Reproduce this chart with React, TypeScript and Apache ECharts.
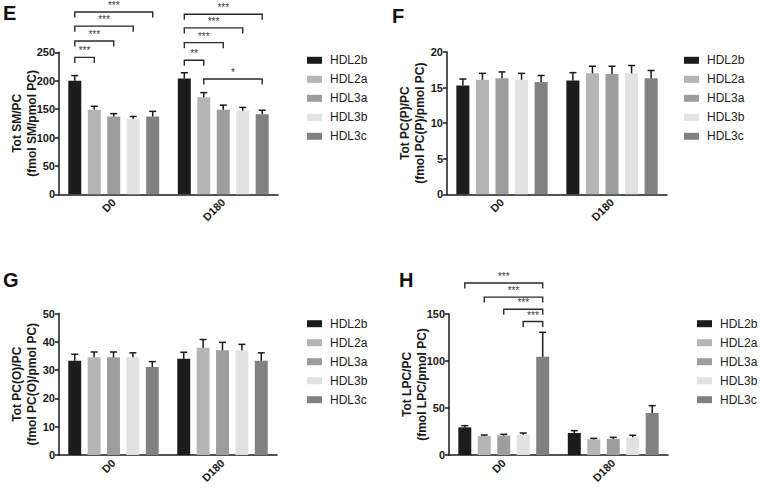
import React, { useEffect, useRef } from "react";
import * as echarts from "echarts";

const categories = ["D0", "D180"];
const seriesNames = ["HDL2b", "HDL2a", "HDL3a", "HDL3b", "HDL3c"];
const seriesColors = ["#1c1c1c", "#b5b5b5", "#9d9d9d", "#e2e2e2", "#818181"];

// Panel E: Tot SM/PC — mean per series [D0, D180]
const smMean = [[200, 204], [149, 171], [137, 149], [133, 147], [137, 141]];
const smSem = [[9, 10], [6, 8], [5, 8], [4, 6], [9, 7]];
// Panel F: Tot PC(P)/PC
const pcpMean = [[15.3, 16.0], [16.1, 17.0], [16.3, 16.9], [16.1, 17.0], [15.8, 16.3]];
const pcpSem = [[0.9, 1.1], [0.9, 1.0], [0.9, 1.1], [0.9, 1.1], [0.9, 1.1]];
// Panel G: Tot PC(O)/PC
const pcoMean = [[33.3, 34.0], [34.5, 37.9], [34.5, 37.0], [34.5, 36.9], [31.1, 33.3]];
const pcoSem = [[2.3, 2.3], [1.9, 2.9], [1.9, 2.8], [1.6, 2.2], [1.9, 2.8]];
// Panel H: Tot LPC/PC
const lpcMean = [[29.4, 23.4], [20.2, 16.7], [20.6, 17.0], [21.6, 18.8], [104.5, 44.7]];
const lpcSem = [[1.8, 2.5], [1.1, 1.0], [1.4, 1.8], [1.8, 2.2], [26.0, 7.8]];

// Significance brackets: [category, from series, to series, bracket height, label]
const smBrackets: [number, number, number, number, string][] = [
  [0, 0, 1, 241, "***"],
  [0, 0, 2, 270, "***"],
  [0, 0, 3, 296, "***"],
  [0, 0, 4, 321, "***"],
  [1, 0, 1, 236, "**"],
  [1, 0, 2, 267, "***"],
  [1, 0, 3, 293, "***"],
  [1, 0, 4, 317, "***"],
  [1, 1, 4, 203, "*"],
];
const lpcBrackets: [number, number, number, number, string][] = [
  [0, 0, 4, 183, "***"],
  [0, 1, 4, 168, "***"],
  [0, 2, 4, 155, "***"],
  [0, 3, 4, 142, "***"],
];

const yMax = [250, 20, 50, 150];
const yInterval = [50, 5, 10, 50];
const yNames = [
  "Tot SM/PC\n(fmol SM/pmol PC)",
  "Tot PC(P)/PC\n(fmol PC(P)/pmol PC)",
  "Tot PC(O)/PC\n(fmol PC(O)/pmol PC)",
  "Tot LPC/PC\n(fmol LPC/pmol PC)",
];
const panelLetters = ["E", "F", "G", "H"];

const FONT = "'Liberation Sans', Arial, Helvetica, sans-serif";
const CAT_GAP = 0.17;
const BAR_GAP = 0.5;

function barX(api: any, cat: number, s: number, val: number) {
  const c = api.coord([cat, val]);
  const band = api.size([1, 0])[0];
  const n = seriesNames.length;
  const w = (band * (1 - CAT_GAP)) / (n + (n - 1) * BAR_GAP);
  const pitch = w * (1 + BAR_GAP);
  return [c[0] - ((n - 1) / 2) * pitch + s * pitch, c[1]];
}

export default function App() {
  const ref = useRef<HTMLDivElement>(null);
  useEffect(() => {
    if (!ref.current) return;
    const chart = echarts.init(ref.current, undefined, { renderer: "svg" });
    const means = [smMean, pcpMean, pcoMean, lpcMean];
    const sems = [smSem, pcpSem, pcoSem, lpcSem];
    const brackets = [smBrackets, [], [], lpcBrackets];

    const grids = [
      { left: 59, top: 52.3, width: 219, height: 142 },
      { left: 447, top: 52, width: 220, height: 142.3 },
      { left: 59, top: 313.5, width: 218, height: 141.5 },
      { left: 449, top: 314, width: 219, height: 141 },
    ];
    const legendPos = [
      { left: 307, top: 53.3 },
      { left: 684, top: 53.3 },
      { left: 307, top: 316.7 },
      { left: 697, top: 316.7 },
    ];
    const letterPos = [
      [3, 3],
      [392, 6],
      [3, 270],
      [399, 270],
    ];

    const xAxis = grids.map((_, p) => ({
      type: "category",
      gridIndex: p,
      data: categories,
      axisLine: { lineStyle: { color: "#1a1a1a", width: 1.5 } },
      axisTick: { alignWithLabel: true, length: 4, lineStyle: { color: "#1a1a1a", width: 1.5 } },
      axisLabel: {
        rotate: 45,
        margin: 6,
        color: "#1a1a1a",
        fontWeight: "bold",
        fontSize: 11,
        fontFamily: FONT,
      },
    }));
    const yAxis = grids.map((_, p) => ({
      type: "value",
      gridIndex: p,
      min: 0,
      max: yMax[p],
      interval: yInterval[p],
      name: yNames[p],
      nameLocation: "middle",
      nameGap: 20,
      nameMoveOverlap: false,
      nameTextStyle: {
        color: "#1a1a1a",
        fontWeight: "bold",
        fontSize: 12,
        lineHeight: 15,
        fontFamily: FONT,
      },
      splitLine: { show: false },
      axisLine: { show: true, lineStyle: { color: "#1a1a1a", width: 1.5 } },
      axisTick: { show: true, length: 4, lineStyle: { color: "#1a1a1a", width: 1.5 } },
      axisLabel: {
        margin: 4,
        color: "#1a1a1a",
        fontWeight: "bold",
        fontSize: 11,
        fontFamily: FONT,
      },
    }));

    const series: any[] = [];
    for (let p = 0; p < 4; p++) {
      seriesNames.forEach((name, s) => {
        series.push({
          type: "bar",
          name,
          xAxisIndex: p,
          yAxisIndex: p,
          data: means[p][s],
          barGap: BAR_GAP * 100 + "%",
          barCategoryGap: CAT_GAP * 100 + "%",
          itemStyle: { color: seriesColors[s] },
          emphasis: { disabled: true },
        });
      });
      const errData: number[][] = [];
      seriesNames.forEach((_, s) => {
        categories.forEach((_, c) => {
          errData.push([c, s, means[p][s][c], sems[p][s][c]]);
        });
      });
      series.push({
        type: "custom",
        xAxisIndex: p,
        yAxisIndex: p,
        z: 5,
        clip: false,
        itemStyle: { color: "#1a1a1a" },
        encode: { x: 0, y: 2 },
        data: errData,
        renderItem: (params: any, api: any) => {
          const cat = api.value(0);
          const s = api.value(1);
          const m = api.value(2);
          const e = api.value(3);
          const b = barX(api, cat, s, m);
          const t = barX(api, cat, s, m + e);
          const cap = 3.5;
          const st = { stroke: "#1a1a1a", lineWidth: 1.5 };
          return {
            type: "group",
            children: [
              { type: "line", shape: { x1: b[0], y1: b[1], x2: t[0], y2: t[1] }, style: st },
              { type: "line", shape: { x1: t[0] - cap, y1: t[1], x2: t[0] + cap, y2: t[1] }, style: st },
            ],
          };
        },
      });
      const br = brackets[p];
      if (br.length) {
        series.push({
          type: "custom",
          xAxisIndex: p,
          yAxisIndex: p,
          z: 6,
          clip: false,
          itemStyle: { color: "#3a3a3a" },
          encode: { x: 0, y: 3 },
          data: br.map((d) => [d[0], d[1], d[2], d[3]]),
          renderItem: (params: any, api: any) => {
            const cat = api.value(0);
            const a = barX(api, cat, api.value(1), api.value(3));
            const b = barX(api, cat, api.value(2), api.value(3));
            const label = br[params.dataIndex][4];
            const tick = 5.5;
            return {
              type: "group",
              children: [
                {
                  type: "polyline",
                  shape: {
                    points: [
                      [a[0], a[1] + tick],
                      [a[0], a[1]],
                      [b[0], b[1]],
                      [b[0], b[1] + tick],
                    ],
                  },
                  style: { stroke: "#2a2a2a", lineWidth: 1.4, fill: null },
                },
                {
                  type: "text",
                  x: (a[0] + b[0]) / 2,
                  y: a[1] - 1.5,
                  style: {
                    text: label,
                    fill: "#3a3a3a",
                    stroke: null,
                    lineWidth: 0,
                    fontSize: 10,
                    fontFamily: FONT,
                    align: "center",
                    verticalAlign: "bottom",
                  },
                },
              ],
            };
          },
        });
      }
    }

    const option: any = {
      animation: false,
      backgroundColor: "#ffffff",
      grid: grids,
      xAxis,
      yAxis,
      legend: legendPos.map((pos) => ({
        ...pos,
        padding: 0,
        orient: "vertical",
        data: seriesNames,
        icon: "rect",
        itemWidth: 15,
        itemHeight: 7,
        itemGap: 5,
        selectedMode: false,
        textStyle: {
          color: "#222",
          fontSize: 12,
          lineHeight: 14,
          fontFamily: FONT,
          padding: [0, 0, 0, 3],
        },
      })),
      graphic: panelLetters.map((t, i) => ({
        type: "text",
        left: letterPos[i][0],
        top: letterPos[i][1],
        style: {
          text: t,
          fill: "#111",
          font: `bold 20px ${FONT}`,
        },
      })),
      series,
    };
    chart.setOption(option);
    return () => chart.dispose();
  }, []);

  return (
    <div
      ref={ref}
      style={{ position: "fixed", left: 0, top: 0, width: 760, height: 492, background: "#fff" }}
    />
  );
}
